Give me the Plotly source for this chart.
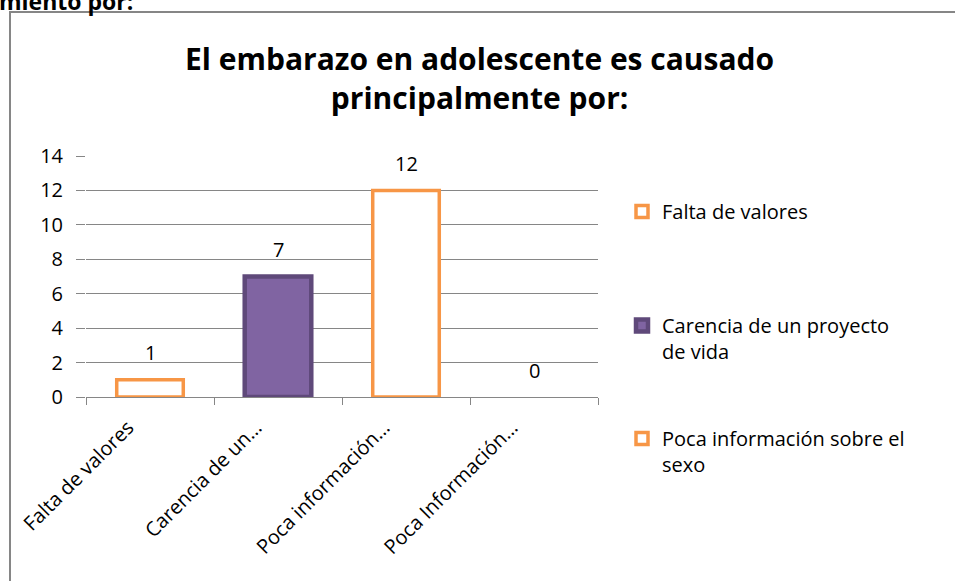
import plotly.graph_objects as go

categories = ["Falta de valores", "Carencia de un proyecto de vida",
              "Poca información sobre el sexo", "Poca Información sobre anticonceptivos"]
tick_labels = ["Falta de valores", "Carencia de un…", "Poca información…", "Poca Información…"]
legend_names = ["Falta de valores", "Carencia de un proyecto<br>de vida",
                "Poca información sobre el<br>sexo", None]
values = [1, 7, 12, 0]

ORANGE = "#F79646"
PURPLE = "#8064A2"
PURPLE_DARK = "#5F497A"
GRID = "#868686"
FONT = "'Open Sans', Lato, sans-serif"

fills = ["white", PURPLE, "white", "white"]
edges = [ORANGE, PURPLE_DARK, ORANGE, ORANGE]
edge_w = [3.5, 4.5, 3.5, 0]

# plot area in pixels (figure 955 x 581)
L, R, T, B = 86, 598, 156, 397


def px(x):
    return (x - L) / (R - L)


def py(y):
    return (B - y) / (B - T)


legend_tops = [192, 306, 419]
legend_ids = ["legend", "legend2", "legend3", None]

fig = go.Figure()
for i, cat in enumerate(categories):
    fig.add_trace(go.Bar(
        x=[cat], y=[values[i]],
        width=0.52,
        marker=dict(color=fills[i], line=dict(color=edges[i], width=edge_w[i])),
        name=legend_names[i] or cat,
        showlegend=legend_names[i] is not None,
        legend=legend_ids[i] if legend_ids[i] else "legend",
        hoverinfo="x+y",
    ))

# data labels
for cat, v in zip(categories, values):
    fig.add_annotation(x=cat, y=v, text=str(v), showarrow=False, yshift=27,
                       yanchor="middle", font=dict(size=20, color="black", family=FONT))

# title
fig.add_annotation(xref="paper", yref="paper", x=px(479), y=py(78),
                   text="<b>El embarazo en adolescente es causado<br>principalmente por:</b>",
                   showarrow=False, xanchor="center", yanchor="middle",
                   font=dict(size=30, color="black", family=FONT))

# heading text cut off at the top of the page
fig.add_annotation(xref="paper", yref="paper", x=px(-3), y=py(19),
                   text="<b>miento por:</b>", showarrow=False,
                   xanchor="left", yanchor="bottom",
                   font=dict(size=23, color="black", family=FONT))

# chart frame
fig.add_shape(type="rect", xref="paper", yref="paper",
              x0=px(10), x1=px(980), y0=py(620), y1=py(12),
              line=dict(color=GRID, width=2), fillcolor="rgba(0,0,0,0)", layer="below")

legend_style = dict(xanchor="left", yanchor="top", valign="top",
                    font=dict(size=20, color="black", family=FONT),
                    bgcolor="rgba(0,0,0,0)", itemclick=False)

fig.update_layout(
    width=955, height=581,
    margin=dict(l=L, r=955 - R, t=T, b=581 - B),
    paper_bgcolor="white", plot_bgcolor="white",
    barmode="overlay",
    font=dict(family=FONT, color="black"),
    legend=dict(x=px(622), y=py(legend_tops[0]), **legend_style),
    legend2=dict(x=px(622), y=py(legend_tops[1]), **legend_style),
    legend3=dict(x=px(622), y=py(legend_tops[2]), **legend_style),
    xaxis=dict(
        type="category", tickmode="array", tickvals=categories, ticktext=tick_labels,
        tickangle=-45, tickson="boundaries", ticks="outside", ticklen=7,
        tickcolor=GRID, showline=True, linecolor=GRID, linewidth=1,
        showgrid=False, tickfont=dict(size=20, color="black", family=FONT),
        ticklabelshift=-22, ticklabelstandoff=10,
        range=[-0.5, 3.5], automargin=False,
    ),
    yaxis=dict(
        range=[0, 14], dtick=2, showgrid=True, gridcolor=GRID, gridwidth=1,
        ticks="outside", ticklen=9, tickcolor=GRID, showline=False, zeroline=False,
        tickfont=dict(size=20, color="black", family=FONT), ticklabelstandoff=9,
        automargin=False,
    ),
)

fig.write_html("out.html", config={"displayModeBar": False},
               post_script="document.body.style.margin = '0';")
